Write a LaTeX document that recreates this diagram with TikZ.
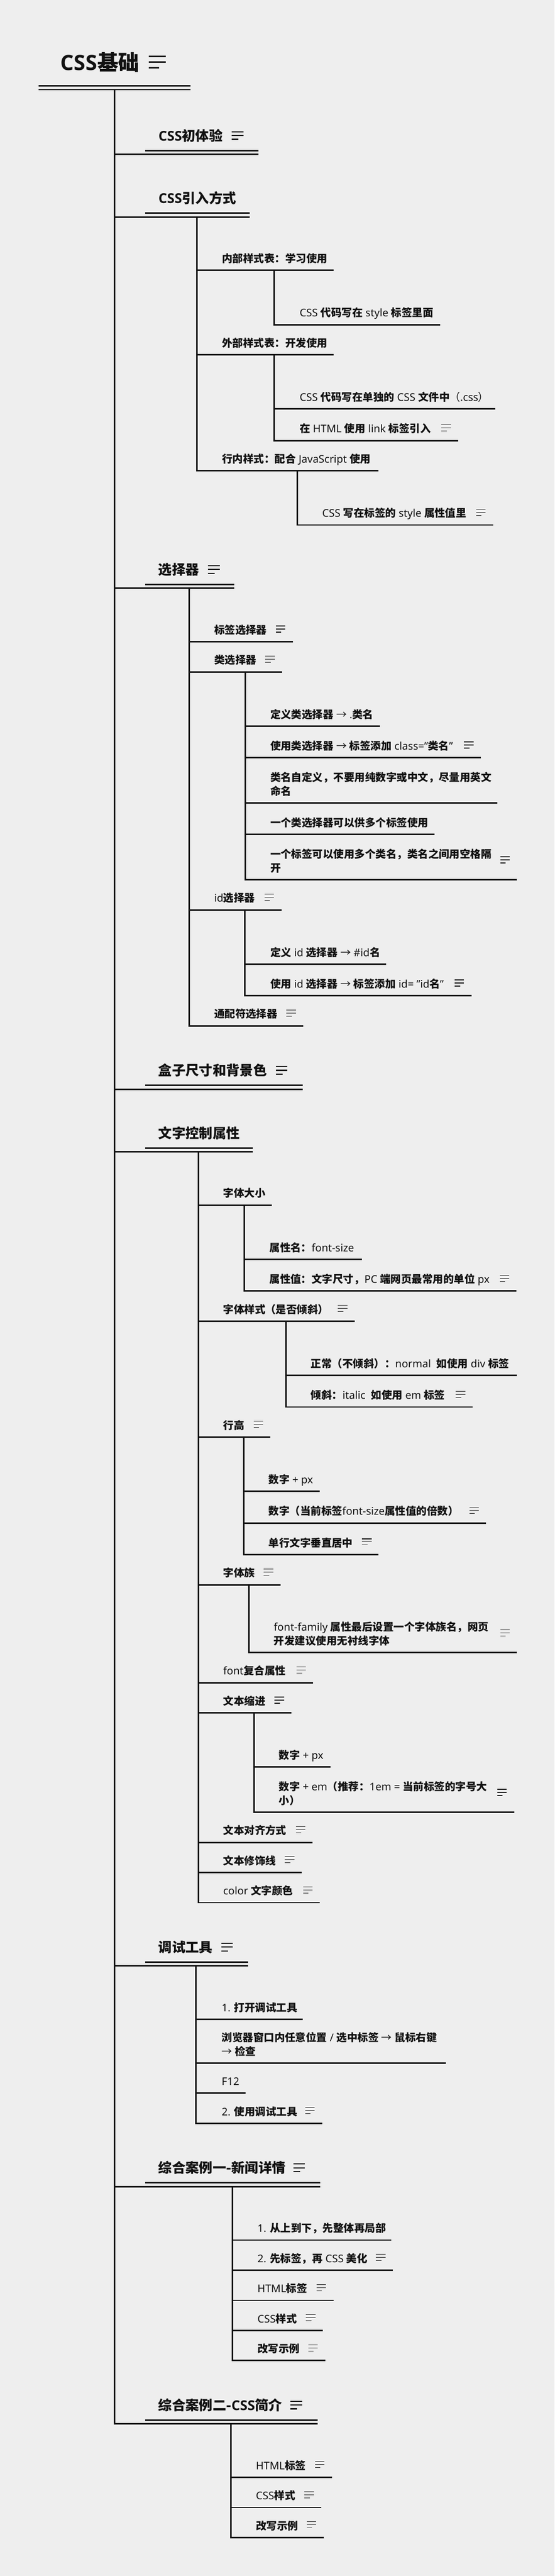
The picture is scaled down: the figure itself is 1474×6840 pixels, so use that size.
\documentclass[tikz,border=0pt]{standalone}
\usepackage{fontspec}
\setmainfont{Noto Sans}
\newfontfamily\latb{Open Sans}
\newfontfamily\cjk{Noto Sans CJK SC}
\newcommand{\zh}[1]{{\cjk\bfseries #1}}
\newcommand{\zr}[1]{{\cjk\mdseries #1}}
\definecolor{paper}{HTML}{EEEEEE}
\definecolor{ink}{HTML}{111111}
\tikzset{
    lnk/.style={draw=ink,line width=4pt,line cap=rect},
    leaftext/.style={text=ink,inner sep=0pt,align=left,font=\fontsize{28}{36}\selectfont},
    headtext/.style={text=ink,inner sep=0pt,align=left,font=\fontsize{36}{44}\selectfont\latb\bfseries},
    roottext/.style={text=ink,inner sep=0pt,align=left,font=\fontsize{56}{68}\selectfont\latb\bfseries},
    noteS/.style={draw=ink,line width=1.7pt},
    noteM/.style={draw=ink,line width=2.8pt,scale=1.22},
    noteL/.style={draw=ink,line width=4pt,scale=1.8},
    lines/.pic={\draw (0,0)--(25,0) (0,8.2)--(25,8.2) (0,16.4)--(14.5,16.4);}
}
\newcommand{\leafnode}[6]{
    \node[leaftext,anchor=base west] (#1) at (#2,#3-21) {#6};
    \coordinate (#1L) at (#4,#3);
    \coordinate (#1R) at (#5-2,#3);
    \draw[lnk] (#1L) -- (#1R);
}
\newcommand{\headnode}[4]{
    \node[headtext,anchor=base west] (#1) at (421,#2-26) {#4};
    \coordinate (#1U) at (388,#2);
    \coordinate (#1V) at (#3-2,#2);
    \coordinate (#1L) at (304,#2+10);
    \coordinate (#1R) at (#3-2,#2+10);
    \draw[lnk] (#1U) -- (#1V);
    \draw[lnk] (#1L) -- (#1R);
}
\begin{document}
\begin{tikzpicture}[x=1pt,y=-1pt]
    \fill[paper] (0,0) rectangle (1474,6840);

    \node[roottext,anchor=base west] (root) at (161,187) {CSS\zh{基础}};
    \pic[noteL] at (396,150) {lines};
    \coordinate (rootA) at (104.5,228);
    \coordinate (rootB) at (504,228);
    \coordinate (rootC) at (104.5,238);
    \coordinate (rootD) at (504,238);
    \coordinate (rootT) at (304,238);
    \draw[lnk] (rootA) -- (rootB);
    \draw[lnk] (rootC) -- (rootD);

    \headnode{hFirst}{400}{687}{CSS\zh{初体验}}
    \pic[noteM] at (616,350) {lines};

    \headnode{hLink}{566}{663}{CSS\zh{引入方式}}
    \leafnode{inner}{590}{718}{523}{886}{\zh{内部样式表：学习使用}}
    \leafnode{innerA}{796}{862}{728.5}{1170}{CSS \zh{代码写在} style \zh{标签里面}}
    \draw[lnk] (innerAL |- innerL) -- (innerAL);
    \leafnode{outer}{590}{942}{523}{886}{\zh{外部样式表：开发使用}}
    \leafnode{outerA}{796}{1086}{728.5}{1316}{CSS \zh{代码写在单独的} CSS \zh{文件中}\zr{（}.css\zr{）}}
    \leafnode{outerB}{796}{1170}{728.5}{1218}{\zh{在} HTML \zh{使用} link \zh{标签引入}}
    \pic[noteS] at (1173,1128) {lines};
    \draw[lnk] (outerBL |- outerL) -- (outerBL);
    \leafnode{inline}{590}{1250}{523}{1006}{\zh{行内样式：配合} JavaScript \zh{使用}}
    \leafnode{inlineA}{856}{1394}{790}{1310}{CSS \zh{写在标签的} style \zh{属性值里}}
    \pic[noteS] at (1265,1352) {lines};
    \draw[lnk] (inlineAL |- inlineL) -- (inlineAL);
    \draw[lnk] (inlineL |- hLinkL) -- (inlineL);

    \headnode{hSel}{1552}{623}{\zh{选择器}}
    \pic[noteM] at (553,1502) {lines};
    \leafnode{tag}{569}{1704}{503}{778}{\zh{标签选择器}}
    \pic[noteS] at (733,1662) {lines};
    \leafnode{cls}{569}{1784}{503}{750}{\zh{类选择器}}
    \pic[noteS] at (705,1742) {lines};
    \leafnode{clsA}{718}{1928}{651.5}{1010}{\zh{定义类选择器} \zr{→} .\zh{类名}}
    \leafnode{clsB}{718}{2012}{651.5}{1278}{\zh{使用类选择器} \zr{→} \zh{标签添加} class="\zh{类名}"}
    \pic[noteS] at (1233,1970) {lines};
    \leafnode{clsC}{718}{2132}{651.5}{1322}{\zh{类名自定义，不要用纯数字或中文，尽量用英文}\\\zh{命名}}
    \leafnode{clsD}{718}{2216}{651.5}{1154}{\zh{一个类选择器可以供多个标签使用}}
    \leafnode{clsE}{718}{2336}{651.5}{1374}{\zh{一个标签可以使用多个类名，类名之间用空格隔}\\\zh{开}}
    \pic[noteS] at (1329,2275) {lines};
    \draw[lnk] (clsEL |- clsL) -- (clsEL);
    \leafnode{idsel}{569}{2416}{503}{748}{id\zh{选择器}}
    \pic[noteS] at (703,2374) {lines};
    \leafnode{idA}{718}{2560}{650.5}{1026}{\zh{定义} id \zh{选择器} \zr{→} \#id\zh{名}}
    \leafnode{idB}{718}{2644}{650.5}{1253}{\zh{使用} id \zh{选择器} \zr{→} \zh{标签添加} id= "id\zh{名}"}
    \pic[noteS] at (1208,2602) {lines};
    \draw[lnk] (idBL |- idselL) -- (idBL);
    \leafnode{any}{569}{2724}{503}{806}{\zh{通配符选择器}}
    \pic[noteS] at (761,2682) {lines};
    \draw[lnk] (anyL |- hSelL) -- (anyL);

    \headnode{hBox}{2882}{804}{\zh{盒子尺寸和背景色}}
    \pic[noteM] at (733,2832) {lines};

    \headnode{hText}{3048}{672}{\zh{文字控制属性}}
    \leafnode{size}{593}{3200}{527.5}{722}{\zh{字体大小}}
    \leafnode{sizeA}{716}{3344}{649.5}{962}{\zh{属性名：}font-size}
    \leafnode{sizeB}{716}{3428}{649.5}{1371.5}{\zh{属性值：文字尺寸，}PC \zh{端网页最常用的单位} px}
    \pic[noteS] at (1328,3386) {lines};
    \draw[lnk] (sizeBL |- sizeL) -- (sizeBL);
    \leafnode{slant}{593}{3508}{527.5}{942}{\zh{字体样式（是否倾斜）}}
    \pic[noteS] at (898,3466) {lines};
    \leafnode{slantA}{826}{3652}{759.5}{1374}{\zh{正常（不倾斜）：}normal\ \ \zh{如使用} div \zh{标签}}
    \leafnode{slantB}{826}{3736}{759.5}{1256}{\zh{倾斜：}italic\ \ \zh{如使用} em \zh{标签}}
    \pic[noteS] at (1211,3694) {lines};
    \draw[lnk] (slantBL |- slantL) -- (slantBL);
    \leafnode{lead}{593}{3816}{527.5}{718}{\zh{行高}}
    \pic[noteS] at (674,3774) {lines};
    \leafnode{leadA}{713.5}{3960}{647.5}{850}{\zh{数字} + px}
    \leafnode{leadB}{713.5}{4044}{647.5}{1292}{\zh{数字（当前标签}font-size\zh{属性值的倍数）}}
    \pic[noteS] at (1247,4002) {lines};
    \leafnode{leadC}{713.5}{4128}{647.5}{1006}{\zh{单行文字垂直居中}}
    \pic[noteS] at (962,4086) {lines};
    \draw[lnk] (leadCL |- leadL) -- (leadCL);
    \leafnode{family}{593}{4208}{527.5}{746}{\zh{字体族}}
    \pic[noteS] at (701,4166) {lines};
    \leafnode{familyA}{727.5}{4388}{661}{1374}{font-family \zh{属性最后设置一个字体族名，网页}\\\zh{开发建议使用无衬线字体}}
    \pic[noteS] at (1329,4328) {lines};
    \draw[lnk] (familyAL |- familyL) -- (familyAL);
    \leafnode{short}{593}{4468}{527.5}{832}{font\zh{复合属性}}
    \pic[noteS] at (788,4426) {lines};
    \leafnode{indent}{593}{4548}{527.5}{774}{\zh{文本缩进}}
    \pic[noteS] at (729.5,4506) {lines};
    \leafnode{indentA}{741}{4692}{675}{878}{\zh{数字} + px}
    \leafnode{indentB}{741}{4812}{675}{1366}{\zh{数字} + em\zh{（推荐：}1em = \zh{当前标签的字号大}\\\zh{小）}}
    \pic[noteS] at (1321,4751) {lines};
    \draw[lnk] (indentBL |- indentL) -- (indentBL);
    \leafnode{align}{593}{4892}{527.5}{830}{\zh{文本对齐方式}}
    \pic[noteS] at (786,4850) {lines};
    \leafnode{deco}{593}{4972}{527.5}{802}{\zh{文本修饰线}}
    \pic[noteS] at (757,4930) {lines};
    \leafnode{tint}{593}{5052}{527.5}{850}{color \zh{文字颜色}}
    \pic[noteS] at (805.5,5010) {lines};
    \draw[lnk] (tintL |- hTextL) -- (tintL);

    \headnode{hDebug}{5210}{660}{\zh{调试工具}}
    \pic[noteM] at (588.5,5160) {lines};
    \leafnode{dbgA}{589}{5362}{521}{804}{1. \zh{打开调试工具}}
    \leafnode{dbgB}{589}{5478}{521}{1184}{\zh{浏览器窗口内任意位置} / \zh{选中标签} \zr{→} \zh{鼠标右键}\\\zr{→} \zh{检查}}
    \leafnode{dbgC}{589}{5558}{521}{652}{F12}
    \leafnode{dbgD}{589}{5638}{521}{856}{2. \zh{使用调试工具}}
    \pic[noteS] at (811,5596) {lines};
    \draw[lnk] (dbgDL |- hDebugL) -- (dbgDL);

    \headnode{hNews}{5796}{851}{\zh{综合案例一-新闻详情}}
    \pic[noteM] at (780,5746) {lines};
    \leafnode{newsA}{684}{5948}{617.5}{1040}{1. \zh{从上到下，先整体再局部}}
    \leafnode{newsB}{684}{6028}{617.5}{1044}{2. \zh{先标签，再} CSS \zh{美化}}
    \pic[noteS] at (999,5986) {lines};
    \leafnode{newsC}{684}{6108}{617.5}{886}{HTML\zh{标签}}
    \pic[noteS] at (841,6066) {lines};
    \leafnode{newsD}{684}{6188}{617.5}{858}{CSS\zh{样式}}
    \pic[noteS] at (813,6146) {lines};
    \leafnode{newsE}{684}{6268}{617.5}{864}{\zh{改写示例}}
    \pic[noteS] at (819,6226) {lines};
    \draw[lnk] (newsEL |- hNewsL) -- (newsEL);

    \headnode{hCase}{6426}{844}{\zh{综合案例二-}CSS\zh{简介}}
    \pic[noteM] at (772,6376) {lines};
    \leafnode{caseA}{680}{6578}{614}{882}{HTML\zh{标签}}
    \pic[noteS] at (837,6536) {lines};
    \leafnode{caseB}{680}{6658}{614}{853.5}{CSS\zh{样式}}
    \pic[noteS] at (809,6616) {lines};
    \leafnode{caseC}{680}{6738}{614}{860}{\zh{改写示例}}
    \pic[noteS] at (815,6696) {lines};
    \draw[lnk] (caseCL |- hCaseL) -- (caseCL);

    \draw[lnk] (rootT) -- (hCaseL);
\end{tikzpicture}
\end{document}
